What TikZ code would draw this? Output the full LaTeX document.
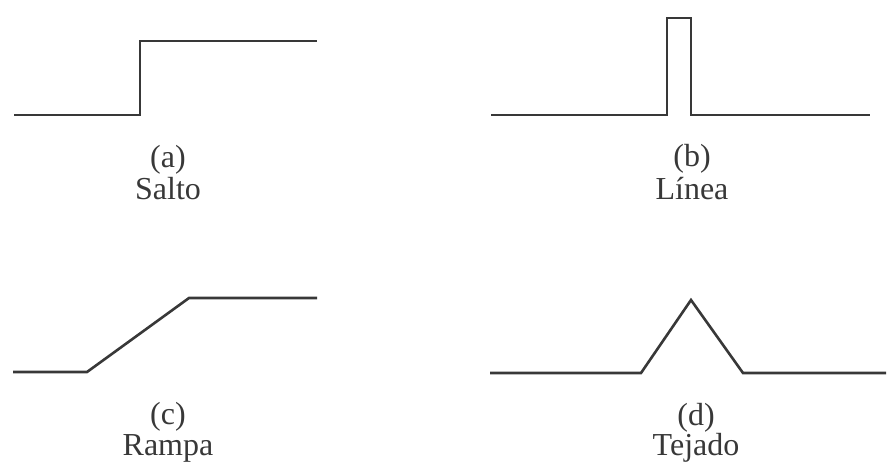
\documentclass[tikz,border=0pt]{standalone}
\usepackage{fontspec}
\setmainfont{Liberation Serif}
\begin{document}
\begin{tikzpicture}[x=1pt,y=-1pt,
  signal/.style={draw=black!78,line width=2.6pt,line join=miter,line cap=butt},
  caption/.style={anchor=base,text=black!78,inner sep=0pt,
    font=\fontsize{32}{34}\selectfont}]
\useasboundingbox (0,0) rectangle (887,469);

% (a) step edge
\coordinate (a0) at (14,115);
\coordinate (a1) at (140,115);
\coordinate (a2) at (140,41);
\coordinate (a3) at (317,41);
\draw[signal] (a0) -- (a1) -- (a2) -- (a3);
\node[caption] (alab) at (168,167) {(a)};
\node[caption] (aname) at (168,199) {Salto};

% (b) line (narrow pulse)
\coordinate (b0) at (491,115);
\coordinate (b1) at (667,115);
\coordinate (b2) at (667,18);
\coordinate (b3) at (691,18);
\coordinate (b4) at (691,115);
\coordinate (b5) at (870,115);
\draw[signal] (b0) -- (b1) -- (b2) -- (b3) -- (b4) -- (b5);
\node[caption] (blab) at (692,166) {(b)};
\node[caption] (bname) at (692,199) {Línea};

% (c) ramp
\coordinate (c0) at (13,372);
\coordinate (c1) at (87,372);
\coordinate (c2) at (189,298);
\coordinate (c3) at (317,298);
\draw[signal] (c0) -- (c1) -- (c2) -- (c3);
\node[caption] (clab) at (168,424) {(c)};
\node[caption] (cname) at (168,455) {Rampa};

% (d) roof
\coordinate (d0) at (490,373);
\coordinate (d1) at (641,373);
\coordinate (d2) at (691,300);
\coordinate (d3) at (743,373);
\coordinate (d4) at (886,373);
\draw[signal] (d0) -- (d1) -- (d2) -- (d3) -- (d4);
\node[caption] (dlab) at (696,425) {(d)};
\node[caption] (dname) at (696,455) {Tejado};
\end{tikzpicture}
\end{document}
